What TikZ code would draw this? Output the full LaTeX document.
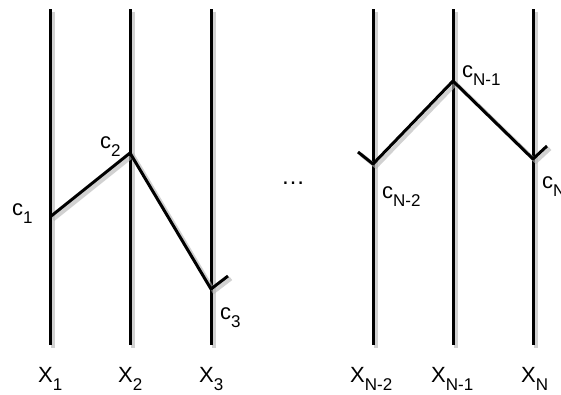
\documentclass[tikz,border=0pt]{standalone}
\usepackage{fontspec}
\setmainfont{Liberation Sans}
\newcommand{\lsub}[1]{\raisebox{-8.5pt}{\fontsize{17}{18}\selectfont #1}}

\begin{document}
\begin{tikzpicture}[x=1pt, y=-1pt,
			wire/.style={line width=3pt, line join=round,
				preaction={draw, black!30, opacity=.6, line width=4pt,
					transform canvas={shift={(3pt,-2.5pt)}}}},
			lab/.style={font=\fontsize{22}{24}\selectfont, inner sep=0pt, anchor=base west},
			]
			\useasboundingbox (0,0) rectangle (561,394);
			
			%% ── Variable lines X_1 ... X_N ───────────────────────────────────────
			\foreach \i/\x in {1/50, 2/130, 3/211, 4/373, 5/453, 6/533} {
				\coordinate (top\i) at (\x,9);
				\coordinate (bot\i) at (\x,345);
				\draw[wire] (top\i) -- (bot\i);
			}
			
			\node[lab] (x1) at (38,382)  {X\lsub{1}};
			\node[lab] (x2) at (118,382) {X\lsub{2}};
			\node[lab] (x3) at (199,382) {X\lsub{3}};
			\node[lab] (x4) at (350,382) {X\lsub{N-2}};
			\node[lab] (x5) at (431,382) {X\lsub{N-1}};
			\node[lab] (x6) at (521,382) {X\lsub{N}};
			
			%% ── Path points c_1 ... c_N ──────────────────────────────────────────
			\coordinate (c1) at (50,217);
			\coordinate (c2) at (130,153);
			\coordinate (c3) at (211,289);
			\coordinate (cn2) at (373,164);
			\coordinate (cn1) at (453,81);
			\coordinate (cn) at (533,159);
			\coordinate (tk3) at (228,276);
			\coordinate (tkn2) at (358,152);
			\coordinate (tkn) at (547,146);
			
			\draw[wire] (c1) -- (c2) -- (c3) -- (tk3);
			\draw[wire] (tkn2) -- (cn2) -- (cn1) -- (cn) -- (tkn);
			
			\node[lab] (l1) at (12,215)  {c\lsub{1}};
			\node[lab] (l2) at (100,148) {c\lsub{2}};
			\node[lab] (l3) at (220,319) {c\lsub{3}};
			\node[lab] (l4) at (382,198) {c\lsub{N-2}};
			\node[lab] (l5) at (462,77)  {c\lsub{N-1}};
			\node[lab] (l6) at (542,188) {c\lsub{N}};
			
			\node[lab, anchor=base, font=\fontsize{24}{26}\selectfont] (dots) at (293,184) {\dots};
			
		\end{tikzpicture}
\end{document}
